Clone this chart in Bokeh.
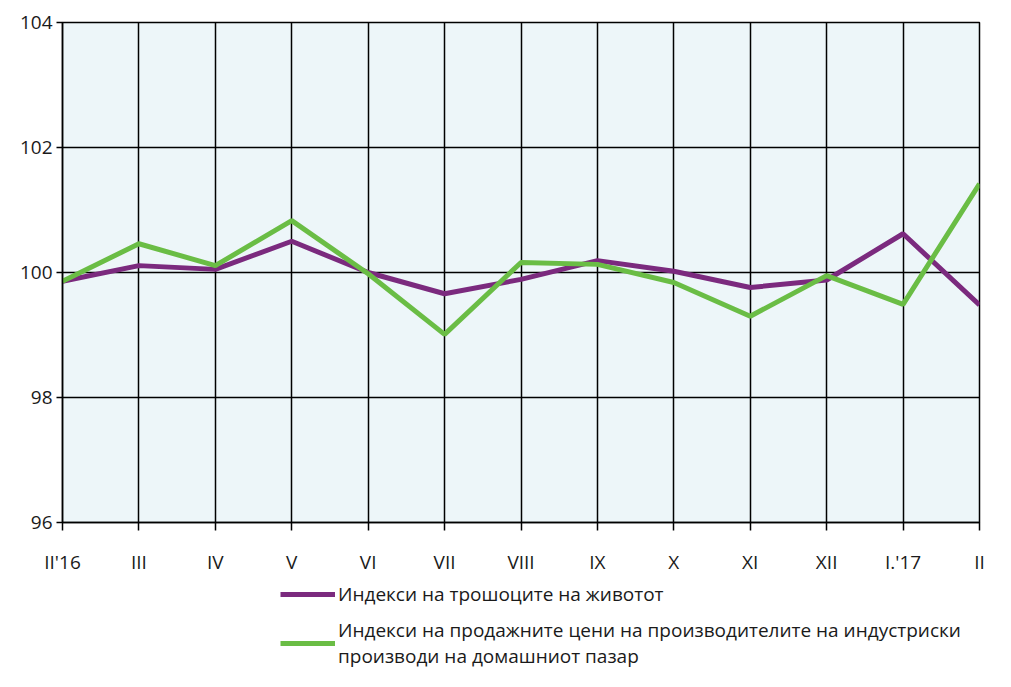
from bokeh.plotting import figure
from bokeh.layouts import column
from bokeh.models import Legend, LegendItem, FixedTicker, ColumnDataSource
from bokeh.embed import file_html
from bokeh.resources import INLINE

months = ["II'16", "III", "IV", "V", "VI", "VII", "VIII", "IX", "X", "XI", "XII", "I.'17", "II"]
cpi = [99.86, 100.11, 100.05, 100.50, 100.00, 99.66, 99.89, 100.19, 100.02, 99.76, 99.88, 100.62, 99.48]
ppi = [99.86, 100.46, 100.11, 100.83, 99.98, 99.01, 100.16, 100.13, 99.84, 99.30, 99.95, 99.49, 101.42]
y_ticks = [96, 98, 100, 102, 104]
label_cpi = "Индекси на трошоците на животот"
label_ppi = "Индекси на продажните цени на производителите на индустриски\nпроизводи на домашниот пазар"

FONT = "Open Sans"
CPI_COLOR = "#7B2A7E"
PPI_COLOR = "#6ABD45"
idx = list(range(len(months)))
src = ColumnDataSource(dict(x=idx, cpi=cpi, ppi=ppi))

MAIN_H = 580
LEG_H = 91

p = figure(width=995, height=MAIN_H, x_range=(0, len(months) - 1), y_range=(96, 104),
           output_backend="svg", toolbar_location=None,
           min_border_left=62, min_border_right=16, min_border_top=22, min_border_bottom=MAIN_H - 522)

p.background_fill_color = "#EDF6F9"
p.border_fill_color = "white"
p.outline_line_color = "black"
p.outline_line_width = 1.5

p.xaxis.ticker = FixedTicker(ticks=idx)
p.xaxis.major_label_overrides = {i: m for i, m in enumerate(months)}
p.yaxis.ticker = FixedTicker(ticks=y_ticks)
for ax in (p.xaxis[0], p.yaxis[0]):
    ax.axis_line_color = "black"
    ax.axis_line_width = 1.5
    ax.major_tick_line_color = "black"
    ax.major_tick_line_width = 1.5
    ax.major_tick_in = 0
    ax.minor_tick_line_color = None
    ax.major_label_text_font = FONT
    ax.major_label_text_font_size = "19px"
    ax.major_label_text_color = "#1a1a1a"
p.xaxis.major_tick_out = 8
p.xaxis.major_label_standoff = 18
p.yaxis.major_tick_out = 6
p.yaxis.major_label_standoff = 4

p.xgrid.ticker = FixedTicker(ticks=idx)
p.ygrid.ticker = FixedTicker(ticks=y_ticks)
for g in (p.xgrid[0], p.ygrid[0]):
    g.grid_line_color = "black"
    g.grid_line_width = 1.5

p.line("x", "cpi", source=src, line_color=CPI_COLOR, line_width=5)
p.line("x", "ppi", source=src, line_color=PPI_COLOR, line_width=5)

# legend panel: a second figure whose ranges exclude the data, so only the legend shows
lg = figure(width=995, height=LEG_H, x_range=(-10, -9), y_range=(0, 1),
            output_backend="svg", toolbar_location=None,
            min_border=0, min_border_left=0, min_border_right=0, min_border_top=0, min_border_bottom=0)
lg.axis.visible = False
lg.grid.visible = False
lg.outline_line_color = None
lg.background_fill_color = "white"
l1 = lg.line("x", "cpi", source=src, line_color=CPI_COLOR, line_width=5)
l2 = lg.line("x", "ppi", source=src, line_color=PPI_COLOR, line_width=5)

legend = Legend(items=[LegendItem(label=label_cpi, renderers=[l1]),
                       LegendItem(label=label_ppi, renderers=[l2])],
                location=(218, 2), orientation="vertical",
                label_text_font=FONT, label_text_font_size="19px", label_text_color="#1a1a1a",
                glyph_width=55, glyph_height=20, label_standoff=3, spacing=10,
                padding=0, margin=0, border_line_alpha=0, background_fill_alpha=0)
lg.add_layout(legend, "center")

layout = column(p, lg, spacing=0)
open("out.html", "w").write(file_html(layout, INLINE))
